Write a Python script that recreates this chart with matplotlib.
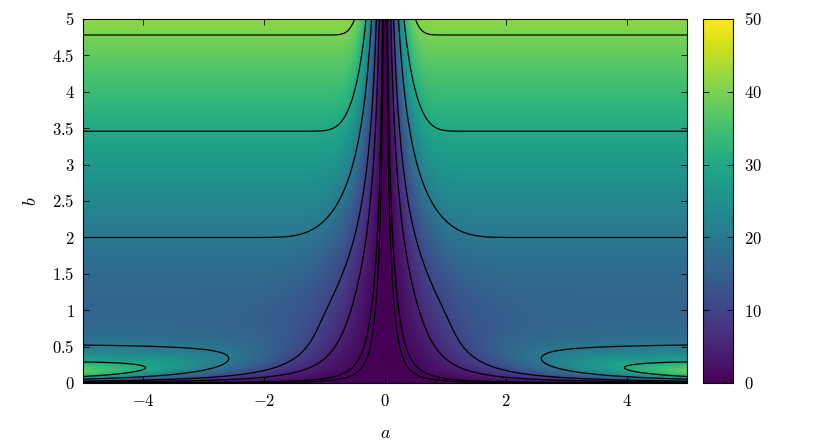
import matplotlib

matplotlib.use("Agg")
import matplotlib.pyplot as plt
import numpy as np
from matplotlib.ticker import FuncFormatter

plt.rcParams["mathtext.fontset"] = "cm"
plt.rcParams["font.family"] = ["DejaVu Serif"]

# surface:
#   f(a, b) = RIDGE/b * (1 - exp(-RIDGE_K (ab)^2)) + (SLOPE*b + OFFSET) * (1 - exp(-FUNNEL_K (ab)^2))
A_LIM = [-5.0, 5.0]
B_LIM = [0.0, 5.0]
RIDGE = 8.5
RIDGE_K = 1.9
SLOPE = 8.08
OFFSET = -0.4
FUNNEL_K = 0.5

LEVELS = [0.5, 1, 5, 10, 20, 30, 40]
CLIM = [0, 50]
XTICKS = [-4, -2, 0, 2, 4]
YTICKS = [0, 0.5, 1, 1.5, 2, 2.5, 3, 3.5, 4, 4.5, 5]
CBAR_TICKS = [0, 10, 20, 30, 40, 50]


def surface(a, b):
    x2 = (a * b) ** 2
    hump = RIDGE / b * (1 - np.exp(-RIDGE_K * x2))
    rise = (SLOPE * b + OFFSET) * (1 - np.exp(-FUNNEL_K * x2))
    return hump + rise


a = np.linspace(A_LIM[0], A_LIM[1], 1201)
b = np.linspace(B_LIM[0] + 1e-4, B_LIM[1], 1201)
A, B = np.meshgrid(a, b)
F = surface(A, B)

fig = plt.figure(figsize=(8.3, 4.47), dpi=100)
ax = fig.add_axes([0.1, 0.1432, 0.7277, 0.8143])
cax = fig.add_axes([0.847, 0.1432, 0.0361, 0.8143])

im = ax.imshow(
    F,
    origin="lower",
    aspect="auto",
    cmap="viridis",
    extent=(A_LIM[0], A_LIM[1], B_LIM[0], B_LIM[1]),
    vmin=CLIM[0],
    vmax=CLIM[1],
    interpolation="bilinear",
)
ax.contour(A, B, F, levels=LEVELS, colors="black", linewidths=0.9)

fmt = FuncFormatter(lambda v, _: f"${v:g}$")
ax.set_xlim(A_LIM)
ax.set_ylim(B_LIM)
ax.set_xticks(XTICKS)
ax.set_yticks(YTICKS)
ax.xaxis.set_major_formatter(fmt)
ax.yaxis.set_major_formatter(fmt)
ax.tick_params(direction="in", top=True, right=True, length=4, labelsize=12, width=0.6)
ax.tick_params(axis="x", pad=7)
ax.tick_params(axis="y", pad=6)
ax.set_xlabel("$a$", fontsize=13, labelpad=10)
ax.set_ylabel("$b$", fontsize=13, labelpad=9)
for s in ax.spines.values():
    s.set_linewidth(0.8)

cb = fig.colorbar(im, cax=cax, ticks=CBAR_TICKS)
cb.ax.yaxis.set_major_formatter(fmt)
cax.tick_params(direction="in", left=True, right=True, length=4, labelsize=12, width=0.6, pad=8)
cb.outline.set_linewidth(0.8)

fig.savefig("out.png", dpi=100)
